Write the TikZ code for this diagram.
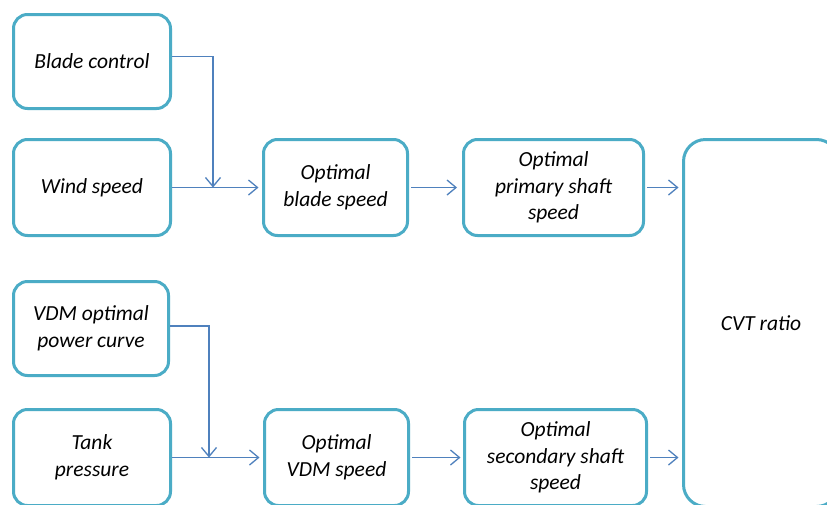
\documentclass[tikz,border=0pt]{standalone}
\usepackage{fontspec}
\setmainfont{Carlito}
\usetikzlibrary{arrows.meta,calc}
\definecolor{boxline}{HTML}{4BACC6}
\definecolor{linkblue}{HTML}{4F81BD}
\tikzset{
  block/.style={draw=boxline, line width=3pt, rounded corners=14pt, fill=white,
    inner sep=0pt, align=center, font=\fontsize{21.5}{26.5}\selectfont\itshape},
  link/.style={draw=linkblue, line width=1.3pt,
    -{Straight Barb[length=9pt,width=15pt,line width=1.3pt]}},
}
\begin{document}
\begin{tikzpicture}[x=1pt,y=-1pt]
  \clip (0,0) rectangle (827,504);
  \fill[white] (0,0) rectangle (827,504);

  % input blocks
  \node[block, minimum width=157pt, minimum height=94pt] (bc) at (92,61.5) {Blade control};
  \node[block, minimum width=157pt, minimum height=96pt] (ws) at (92,187.5) {Wind speed};
  \node[block, minimum width=155pt, minimum height=94pt] (vdm) at (91,328.5) {VDM optimal\\power curve};
  \node[block, minimum width=157pt, minimum height=96pt] (tp) at (92,457.5) {Tank\\pressure};

  % intermediate blocks
  \node[block, minimum width=144pt, minimum height=96pt] (obs) at (335.5,187.5) {Optimal\\blade speed};
  \node[block, minimum width=180pt, minimum height=96pt] (ops) at (553.5,187.5) {Optimal\\primary shaft\\speed};
  \node[block, minimum width=144pt, minimum height=96pt] (ovs) at (336.5,457.5) {Optimal\\VDM speed};
  \node[block, minimum width=182pt, minimum height=96pt] (oss) at (555.5,457.5) {Optimal\\secondary shaft\\speed};

  % output block
  \node[block, rounded corners=22pt, minimum width=155pt, minimum height=367pt] (cvt) at (761,323) {CVT ratio};

  % junction points where the side inputs join
  \coordinate (j1) at (213,187.5);
  \coordinate (j2) at (209,457.5);

  % connectors
  \draw[link] ([yshift=5pt]bc.east) -| (j1);
  \draw[link, shorten >=3.5pt] (ws.east) -- (obs.west);
  \draw[link, shorten <=2pt, shorten >=5pt] (obs.east) -- (ops.west);
  \draw[link, shorten <=2pt, shorten >=3.5pt] (ops.east) -- (ops.east -| cvt.west);
  \draw[link] ([yshift=2.5pt]vdm.east) -| (j2);
  \draw[link, shorten >=3.5pt] (tp.east) -- (ovs.west);
  \draw[link, shorten <=2pt, shorten >=2.5pt] (ovs.east) -- (oss.west);
  \draw[link, shorten <=2pt, shorten >=3.5pt] (oss.east) -- (oss.east -| cvt.west);
\end{tikzpicture}
\end{document}
